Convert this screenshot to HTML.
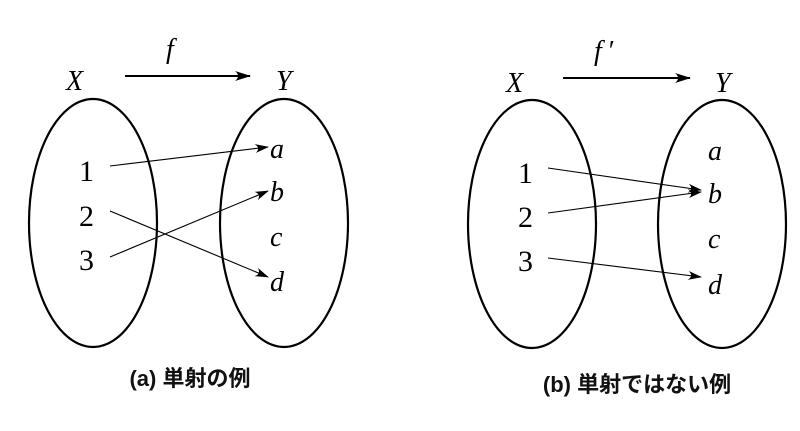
<!DOCTYPE html>
<html><head><meta charset="utf-8"><style>
html,body{margin:0;padding:0;background:#fff;}
svg{display:block}
.m{font-family:"Liberation Serif",serif;font-style:italic;font-size:28px;fill:#000}
.n{font-family:"Liberation Serif",serif;font-size:30px;fill:#000}
.c{font-family:"Liberation Sans","Noto Sans CJK JP",sans-serif;font-weight:bold;font-size:22px;fill:#111}
</style></head><body>
<svg width="800" height="431" viewBox="0 0 800 431" xmlns="http://www.w3.org/2000/svg">
<defs>
<marker id="ah" viewBox="0 0 14 9" refX="13" refY="4.5" markerWidth="14" markerHeight="9" markerUnits="userSpaceOnUse" orient="auto">
<path d="M0,0 Q6,4.5 0,9 L14,4.5 Z" fill="#000"/>
</marker>
<marker id="ah2" viewBox="0 0 16 10" refX="15" refY="5" markerWidth="16" markerHeight="10" markerUnits="userSpaceOnUse" orient="auto">
<path d="M0,0 Q6,5 0,10 L16,5 Z" fill="#000"/>
</marker>
</defs>
<g fill="none" stroke="#000" stroke-width="2.2">
<ellipse cx="93" cy="223" rx="64" ry="124"/>
<ellipse cx="284" cy="223" rx="64" ry="124"/>
<ellipse cx="532" cy="224" rx="64" ry="124"/>
<ellipse cx="722" cy="224" rx="64" ry="124"/>
</g>
<g stroke="#000" stroke-width="2">
<line x1="125" y1="76" x2="250" y2="76" marker-end="url(#ah2)"/>
<line x1="563" y1="78" x2="690" y2="78" marker-end="url(#ah2)"/>
</g>
<g stroke="#000" stroke-width="1.1">
<line x1="110" y1="166" x2="268" y2="147" marker-end="url(#ah)"/>
<line x1="110" y1="211" x2="268" y2="277" marker-end="url(#ah)"/>
<line x1="110" y1="257" x2="268" y2="191" marker-end="url(#ah)"/>
<line x1="548" y1="168" x2="701" y2="190" marker-end="url(#ah)"/>
<line x1="548" y1="213" x2="701" y2="192" marker-end="url(#ah)"/>
<line x1="548" y1="258" x2="701" y2="277" marker-end="url(#ah)"/>
</g>
<text class="m" x="166" y="58">f</text>
<text class="m" x="66" y="90">X</text>
<text class="m" x="276" y="90">Y</text>
<text class="n" x="79" y="181">1</text>
<text class="n" x="79" y="226">2</text>
<text class="n" x="79" y="270">3</text>
<text class="m" x="270" y="158">a</text>
<text class="m" x="270" y="201">b</text>
<text class="m" x="270" y="246">c</text>
<text class="m" x="270" y="291">d</text>
<text class="c" x="190" y="386" text-anchor="middle">(a)  単射の例</text>

<text class="m" x="594" y="60">f <tspan font-style="normal">′</tspan></text>
<text class="m" x="506" y="92">X</text>
<text class="m" x="715" y="92">Y</text>
<text class="n" x="518" y="183">1</text>
<text class="n" x="518" y="227">2</text>
<text class="n" x="518" y="271">3</text>
<text class="m" x="708" y="160">a</text>
<text class="m" x="708" y="203">b</text>
<text class="m" x="708" y="248">c</text>
<text class="m" x="708" y="294">d</text>
<text class="c" x="637" y="392" text-anchor="middle">(b)  単射ではない例</text>
</svg>
</body></html>
